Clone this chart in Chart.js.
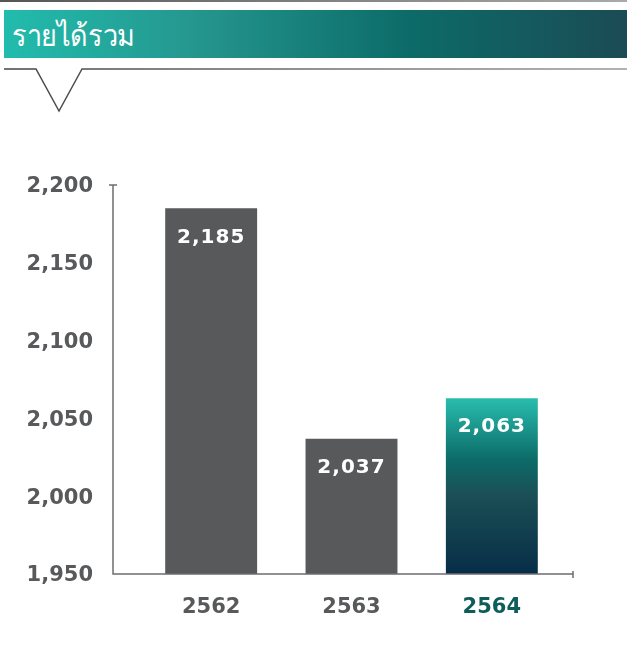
<!DOCTYPE html>
<html>
<head>
<meta charset="utf-8">
<script src="https://cdn.jsdelivr.net/npm/chart.js@4.4.1/dist/chart.umd.min.js"></script>
<style>
  html, body { margin: 0; padding: 0; background: #fff; width: 627px; height: 652px; overflow: hidden; }
  #topline { position: absolute; left: 0; top: 0; width: 627px; height: 2px; background: linear-gradient(to right, #555, #aaa); }
  #band { position: absolute; left: 4px; top: 10px; width: 623px; height: 48px;
          background: linear-gradient(to right, #21bcad 0%, #25978f 30%, #0c6b68 65%, #1b4b55 100%); }
  #title { position: absolute; left: 8px; top: 7px; color: #fff; font-family: "Noto Sans", "DejaVu Sans", sans-serif;
           font-size: 27px; line-height: 32px; letter-spacing: -0.4px; transform: scaleY(1.1); transform-origin: left top; }
  #notch { position: absolute; left: 0; top: 0; }
  #wrap { position: absolute; left: 0; top: 0; width: 627px; height: 652px; }
</style>
</head>
<body>
<div id="topline"></div>
<div id="band"><div id="title">รายได้รวม</div></div>
<svg id="notch" width="627" height="120">
  <defs>
    <linearGradient id="lg" x1="0" x2="1" y1="0" y2="0">
      <stop offset="0" stop-color="#444"/>
      <stop offset="1" stop-color="#999"/>
    </linearGradient>
  </defs>
  <polyline points="4,69 36,69 59,111 82,69 627,69" fill="none" stroke="url(#lg)" stroke-width="1.5"/>
</svg>
<div id="wrap"><canvas id="c" width="627" height="652"></canvas></div>
<script>
const categories = ['2562', '2563', '2564'];
const revenue = [2185, 2037, 2063];
const yMin = 1950;
const yMax = 2200;
const yStep = 50;
const labelColors = ['#58595b', '#58595b', '#0d5e5a'];

const GREY = '#58595b';
const FONT = '"DejaVu Sans", sans-serif';

function barColor(ctx) {
  if (ctx.dataIndex !== 2) return GREY;
  const chart = ctx.chart;
  const area = chart.chartArea;
  if (!area) return '#0c6b68';
  const yScale = chart.scales.y;
  const top = yScale.getPixelForValue(revenue[2]);
  const g = chart.ctx.createLinearGradient(0, top, 0, area.bottom);
  g.addColorStop(0, '#28bdae');
  g.addColorStop(0.35, '#0c6b68');
  g.addColorStop(0.55, '#1b4f55');
  g.addColorStop(1, '#072d48');
  return g;
}

const axisPlugin = {
  id: 'axisLines',
  afterDatasetsDraw(chart) {
    const { ctx, chartArea } = chart;
    const ax = 113, right = 573;
    ctx.save();
    ctx.strokeStyle = '#6d6e71';
    ctx.lineWidth = 1.5;
    ctx.beginPath();
    ctx.moveTo(ax, chartArea.top);
    ctx.lineTo(ax, chartArea.bottom);
    ctx.lineTo(right, chartArea.bottom);
    ctx.moveTo(109, chartArea.top);
    ctx.lineTo(117, chartArea.top);
    ctx.moveTo(right, chartArea.bottom - 3);
    ctx.lineTo(right, chartArea.bottom + 4);
    ctx.stroke();
    const meta = chart.getDatasetMeta(0);
    ctx.fillStyle = '#ffffff';
    ctx.font = 'bold 20px ' + FONT;
    ctx.textAlign = 'center';
    ctx.textBaseline = 'middle';
    if ('letterSpacing' in ctx) ctx.letterSpacing = '1px';
    meta.data.forEach((bar, i) => {
      ctx.fillText(revenue[i].toLocaleString('en-US'), bar.x, bar.y + 29);
    });
    ctx.restore();
  }
};

new Chart(document.getElementById('c'), {
  type: 'bar',
  data: {
    labels: categories,
    datasets: [{
      data: revenue,
      backgroundColor: barColor,
      borderWidth: 0,
      barPercentage: 0.655,
      categoryPercentage: 1
    }]
  },
  options: {
    responsive: false,
    animation: false,
    devicePixelRatio: 1,
    layout: { padding: { top: 185, right: 65, bottom: 0, left: 0 } },
    plugins: { legend: { display: false }, tooltip: { enabled: false } },
    scales: {
      x: {
        offset: true,
        grid: { display: false, drawTicks: false },
        border: { display: false },
        ticks: {
          padding: 21,
          color: (c) => labelColors[c.index],
          font: { family: FONT, size: 21, weight: 'bold' }
        },
        afterFit(s) { s.height = 78; }
      },
      y: {
        min: yMin,
        max: yMax,
        grid: { display: false, drawTicks: false },
        border: { display: false },
        ticks: {
          stepSize: yStep,
          padding: 48,
          labelOffset: 2,
          color: GREY,
          font: { family: FONT, size: 21, weight: 'bold' },
          callback: (v) => Number(v).toLocaleString('en-US')
        },
        afterFit(s) { s.width = 141; }
      }
    }
  },
  plugins: [axisPlugin]
});
</script>
</body>
</html>
